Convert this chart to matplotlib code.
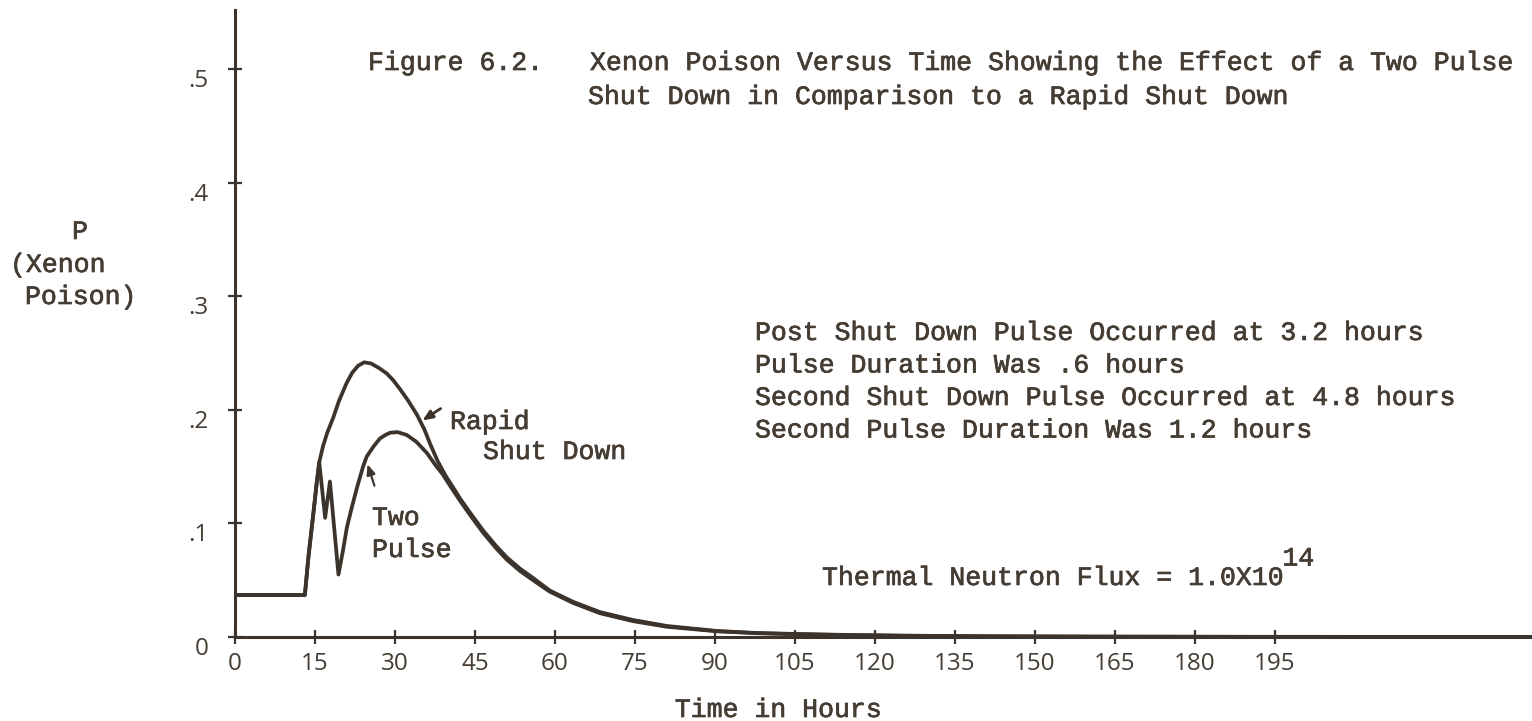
import matplotlib
matplotlib.use("Agg")
import matplotlib.pyplot as plt
import matplotlib.patheffects as pe
from matplotlib.transforms import ScaledTranslation

# Xenon poison after shutdown (hours, poison fraction)
time_rapid = [0, 13.1, 13.8, 14.7, 15.3, 15.8, 16.5, 17.3, 18.4, 19.5, 20.9, 22.0,
              23.1, 24.2, 25.5, 27.0, 28.5, 29.7, 31.0, 32.5, 34.1, 35.5, 36.6, 38.0,
              39.5, 41.0, 42.2, 44.0, 46.5, 49.0, 51.0, 53.5, 55.9, 59.0, 63.4, 68.4,
              74.6, 81.0, 90.4, 98.0, 106.0, 115.0, 125.0, 140.0, 160.0, 190.0, 243.0]
p_rapid = [0.037, 0.037, 0.072, 0.109, 0.135, 0.154, 0.168, 0.180, 0.193, 0.208, 0.2235, 0.233,
           0.239, 0.242, 0.241, 0.237, 0.232, 0.226, 0.218, 0.208, 0.196, 0.183, 0.170, 0.155,
           0.142, 0.131, 0.122, 0.110, 0.094, 0.080, 0.070, 0.060, 0.052, 0.041, 0.031, 0.022,
           0.015, 0.0097, 0.0053, 0.0035, 0.0026, 0.0018, 0.0012, 0.0007, 0.0004, 0.0002, 0.0]

time_pulse = [0, 13.1, 13.8, 14.7, 15.3, 15.8, 16.9, 17.8, 19.4, 20.2, 21.0, 22.0, 22.9,
              24.0, 24.7, 26.0, 27.2, 28.2, 29.1, 30.5, 32.2, 34.0, 36.0, 37.5, 39.0, 40.5,
              42.2, 44.0, 46.5, 49.0, 51.0, 53.5, 55.9, 59.0, 63.4, 68.4, 74.6, 81.0, 90.4,
              98.0, 106.0, 115.0, 125.0, 140.0, 160.0, 190.0, 243.0]
p_pulse = [0.037, 0.037, 0.072, 0.109, 0.135, 0.154, 0.105, 0.137, 0.055, 0.075, 0.097, 0.116, 0.132,
           0.150, 0.159, 0.168, 0.175, 0.178, 0.180, 0.1805, 0.178, 0.172, 0.162, 0.152, 0.143, 0.132,
           0.120, 0.108, 0.092, 0.078, 0.068, 0.058, 0.050, 0.040, 0.030, 0.021, 0.014, 0.009, 0.005,
           0.0033, 0.0024, 0.0016, 0.0011, 0.0006, 0.0003, 0.0001, 0.0]

x_ticks = [0, 15, 30, 45, 60, 75, 90, 105, 120, 135, 150, 165, 180, 195]
y_ticks = [0, 0.1, 0.2, 0.3, 0.4, 0.5]
y_tick_labels = ["0", ".1", ".2", ".3", ".4", ".5"]

notes = ["Post Shut Down Pulse Occurred at 3.2 hours",
         "Pulse Duration Was .6 hours",
         "Second Shut Down Pulse Occurred at 4.8 hours",
         "Second Pulse Duration Was 1.2 hours"]

INK = "#453c33"
LINE = "#3b332c"
TYPE = "Liberation Mono"
NUMS = "Open Sans"

W, H = 1532, 721
fig = plt.figure(figsize=(W / 100, H / 100), dpi=100)
fig.patch.set_facecolor("white")


def px(x, y):
    return x / W, 1 - y / H


ax = fig.add_axes([235 / W, (H - 637) / H, (W - 235) / W, (637 - 10) / H])
ax.set_xlim(0, 243.2)
ax.set_ylim(0, 0.5524)

ax.plot(time_rapid, p_rapid, color=LINE, lw=2.7, solid_joinstyle="round")
ax.plot(time_pulse, p_pulse, color=LINE, lw=2.7, solid_joinstyle="round")

for side in ["top", "right"]:
    ax.spines[side].set_visible(False)
for side in ["left", "bottom"]:
    ax.spines[side].set_linewidth(2.2)
    ax.spines[side].set_color(LINE)

ax.set_xticks(x_ticks)
ax.set_xticklabels([str(t) for t in x_ticks], fontfamily=NUMS, fontsize=17.5, color=INK)
ax.set_yticks(y_ticks)
ax.set_yticklabels(y_tick_labels, fontfamily=NUMS, fontsize=17.5, color=INK)
ax.tick_params(axis="both", direction="inout", length=10, width=1.6, color=LINE)
ax.tick_params(axis="x", pad=6)
ax.tick_params(axis="y", pad=14)
for lab in ax.get_yticklabels():
    lab.set_transform(lab.get_transform() + ScaledTranslation(0, -0.09, fig.dpi_scale_trans))

# curve call-outs
ax.annotate("", xy=(34.7, 0.1894), xytext=(39.0, 0.2026),
            arrowprops=dict(arrowstyle="-|>,head_length=0.6,head_width=0.25", color=LINE, lw=2))
ax.annotate("", xy=(24.7, 0.1545), xytext=(26.3, 0.131),
            arrowprops=dict(arrowstyle="-|>,head_length=0.6,head_width=0.25", color=LINE, lw=1.6))

# typed text: mono face with a light stroke for ribbon weight
heavy = [pe.withStroke(linewidth=0.5, foreground=INK)]
txt = dict(fontfamily=TYPE, fontsize=19.1, color=INK, va="center", ha="left", path_effects=heavy)

fig.text(*px(368, 63), "Figure 6.2.", **txt)
fig.text(*px(590, 63), "Xenon Poison Versus Time Showing the Effect of a Two Pulse", **txt)
fig.text(*px(588, 97), "Shut Down in Comparison to a Rapid Shut Down", **txt)

fig.text(*px(80, 232), "P", **{**txt, "ha": "center"})
fig.text(*px(10, 265), "(Xenon", **txt)
fig.text(*px(25, 297), "Poison)", **txt)

fig.text(*px(450, 422), "Rapid", **txt)
fig.text(*px(483, 452), "Shut Down", **txt)
fig.text(*px(372, 518), "Two", **txt)
fig.text(*px(372, 550), "Pulse", **txt)

for i, line in enumerate(notes):
    fig.text(*px(755, 333 + 32.5 * i), line, **txt)

flux = fig.text(*px(822, 578), "Thermal Neutron Flux = 1.0X10", **txt)
ax.annotate("14", xy=(1.0, 0.75), xycoords=flux, ha="left", va="bottom",
            fontfamily=TYPE, fontsize=19.1, color=INK, path_effects=heavy)

fig.text(*px(778, 710), "Time in Hours", **{**txt, "ha": "center"})

fig.savefig("out.png", dpi=100, facecolor="white")
